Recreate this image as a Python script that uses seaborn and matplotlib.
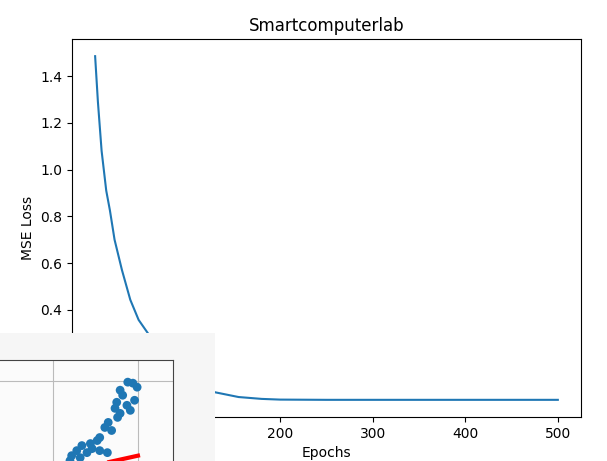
import matplotlib
matplotlib.use("Agg")
import matplotlib.pyplot as plt
import seaborn as sns

# training loss
epochs = [0, 1, 3, 7, 12, 16, 21, 29, 38, 47, 57, 70, 85, 100, 115, 130, 155, 180, 200,
          250, 300, 400, 500]
mse_loss = [1.485, 1.42, 1.29, 1.08, 0.91, 0.825, 0.70, 0.57, 0.443, 0.357, 0.30, 0.22,
            0.15, 0.10, 0.068, 0.047, 0.027, 0.019, 0.016, 0.015, 0.015, 0.015, 0.015]

# the window lying over the bottom-left corner: a scatter with a red fit line
pts_x = [3.88, 3.94, 3.99, 3.79, 3.82, 3.96, 3.75, 3.87, 3.73, 3.79, 3.91, 3.76, 3.65, 3.61,
         3.69, 3.55, 3.52, 3.44, 3.34, 3.46, 3.40, 3.55, 3.64, 3.28, 3.22, 3.20, 3.32]
pts_y = [3.99, 3.98, 3.94, 3.91, 3.86, 3.81, 3.79, 3.76, 3.73, 3.68, 3.71, 3.64, 3.59, 3.54,
         3.51, 3.44, 3.41, 3.38, 3.36, 3.33, 3.29, 3.31, 3.29, 3.31, 3.26, 3.21, 3.24]
fit_x = [2.5, 4.0]
fit_y = [2.98, 3.26]

fig = plt.figure(figsize=(6.07, 4.61), dpi=100)
ax = fig.add_axes([0.1186, 0.0954, 0.8385, 0.8200])
sns.lineplot(x=epochs, y=mse_loss, ax=ax, color="tab:blue", linewidth=1.5)
ax.set_title("Smartcomputerlab")
ax.set_xlabel("Epochs")
ax.set_ylabel("MSE Loss")

# background of the covering window
win = fig.add_axes([0.0, 0.0, 0.354, 0.2777], zorder=5)
win.set_facecolor("#f6f6f6")
win.set_xticks([])
win.set_yticks([])
for s in win.spines.values():
    s.set_visible(False)

sc = fig.add_axes([-0.1928, -0.0889, 0.4778, 0.3080], zorder=6)
sc.set_facecolor("#fbfbfb")
sns.scatterplot(x=pts_x, y=pts_y, ax=sc, color="tab:blue", s=40, edgecolor="none")
sns.lineplot(x=fit_x, y=fit_y, ax=sc, color="red", linewidth=3)
sc.set_xlim(1.0, 4.412)
sc.set_ylim(2.8, 4.21)
sc.set_xticks([2, 3, 4])
sc.set_yticks([3, 4])
sc.tick_params(labelbottom=False, labelleft=False, length=0)
sc.grid(True, color="#bbbbbb", linewidth=0.8)
sc.set_axisbelow(True)
for s in sc.spines.values():
    s.set_color("#444444")

fig.savefig("out.png", dpi=100)
